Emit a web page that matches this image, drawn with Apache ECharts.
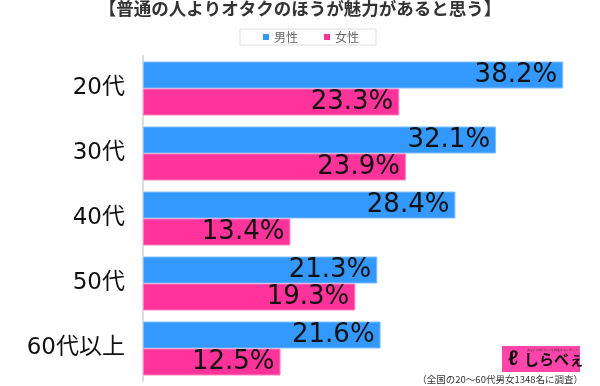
<!DOCTYPE html>
<html><head><meta charset="utf-8">
<script src="https://cdn.jsdelivr.net/npm/echarts@6/dist/echarts.min.js"></script>
<style>html,body{margin:0;padding:0;background:#fff}#c{width:600px;height:386px}</style>
</head><body><div id="c"></div>
<script>
const categories = ['20代', '30代', '40代', '50代', '60代以上'];
const male = [38.2, 32.1, 28.4, 21.3, 21.6];
const female = [23.3, 23.9, 13.4, 19.3, 12.5];
const seriesNames = ['男性', '女性'];
const titleText = '【普通の人よりオタクのほうが魅力があると思う】';
const noteText = '（全国の20～60代男女1348名に調査）';

const chart = echarts.init(document.getElementById('c'));
const cjk = '"Noto Sans CJK JP", "Noto Sans", sans-serif';
const numFont = '"DejaVu Sans", "Noto Sans CJK JP", sans-serif';
const labelOpt = {
  show: true, position: 'insideRight', distance: 6,
  formatter: p => p.value.toFixed(1) + '%',
  color: '#111', fontSize: 26, fontFamily: numFont
};
chart.setOption({
  animation: false,
  title: {
    text: titleText, left: 'center', top: 0, padding: 0,
    textStyle: { fontSize: 17.5, fontWeight: 'bold', color: '#333', fontFamily: cjk }
  },
  legend: {
    data: seriesNames, top: 29, left: 240,
    icon: 'rect', itemWidth: 6, itemHeight: 6, itemGap: 26,
    itemStyle: { borderWidth: 0 },
    borderColor: '#ddd', borderWidth: 1, padding: [2, 17, 2, 23],
    textStyle: { fontSize: 12, color: '#666', fontFamily: cjk }
  },
  grid: { left: 143, right: 17, top: 56, bottom: 5 },
  xAxis: { type: 'value', min: 0, max: 40, show: false },
  yAxis: {
    type: 'category', data: categories, inverse: true,
    axisLine: { lineStyle: { color: '#ddd', width: 2 } },
    axisTick: { show: false },
    axisLabel: { fontSize: 23, color: '#111', margin: 18, fontFamily: numFont }
  },
  series: [
    { name: seriesNames[0], type: 'bar', data: male, barGap: '0%', barCategoryGap: '17%',
      itemStyle: { color: '#3399ff', borderColor: '#7fbfff', borderWidth: 1 }, label: labelOpt },
    { name: seriesNames[1], type: 'bar', data: female,
      itemStyle: { color: '#ff3399', borderColor: '#ff7fbf', borderWidth: 1 }, label: labelOpt }
  ],
  graphic: [
    { type: 'rect', left: 502, top: 346, shape: { width: 78, height: 26 }, style: { fill: '#ff44aa' } },
    { type: 'text', left: 527, top: 349, style: { text: 'あなたの知りたいを調査するメディア', fontSize: 3, fill: '#333' } },
    { type: 'text', left: 524, top: 352, style: { text: 'しらべぇ', fontSize: 15, fontWeight: 'bold', fill: '#111', fontFamily: cjk } },
    { type: 'text', left: 508, top: 349, style: { text: 'ℓ', fontSize: 21, fontWeight: 'bold', fill: '#111' } },
    { type: 'text', right: 17, top: 375, style: { text: noteText, fontSize: 9.5, fill: '#333', fontFamily: cjk } }
  ]
});
</script></body></html>
